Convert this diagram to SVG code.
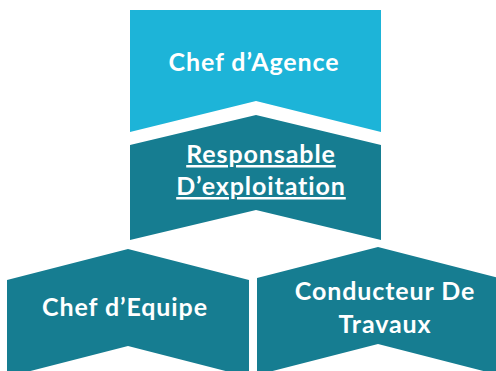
<svg xmlns="http://www.w3.org/2000/svg" width="496" height="371" viewBox="0 0 496 371">
<style>
.cyan{fill:#1DB4D8}
.teal{fill:#167D91}
.t{font-family:Lato,"Open Sans",sans-serif;font-weight:bold;font-size:25px;fill:#fff;text-anchor:middle;letter-spacing:0.9px}
.u{text-decoration:underline}
</style>
<rect width="496" height="371" fill="#fff"/>
<g id="chef-agence">
<polygon class="cyan" points="130,10 381,10 381,132 256,101 130,132"/>
<text class="t" x="254" y="71">Chef d’Agence</text>
</g>
<g id="responsable">
<polygon class="teal" points="130,145 256,115 381,145 381,240 256,210 130,240"/>
<text class="t u" x="261" y="163">Responsable</text>
<text class="t u" x="261" y="195">D’exploitation</text>
</g>
<g id="chef-equipe">
<polygon class="teal" points="7,280 128,249 249,280 249,377 128,346 7,377"/>
<text class="t" x="125" y="316">Chef d’Equipe</text>
</g>
<g id="conducteur">
<polygon class="teal" points="257,278 378,247 499,278 499,375 378,344 257,375"/>
<text class="t" x="385" y="300">Conducteur De</text>
<text class="t" x="385" y="333">Travaux</text>
</g>
<g id="connectors"></g>
</svg>
